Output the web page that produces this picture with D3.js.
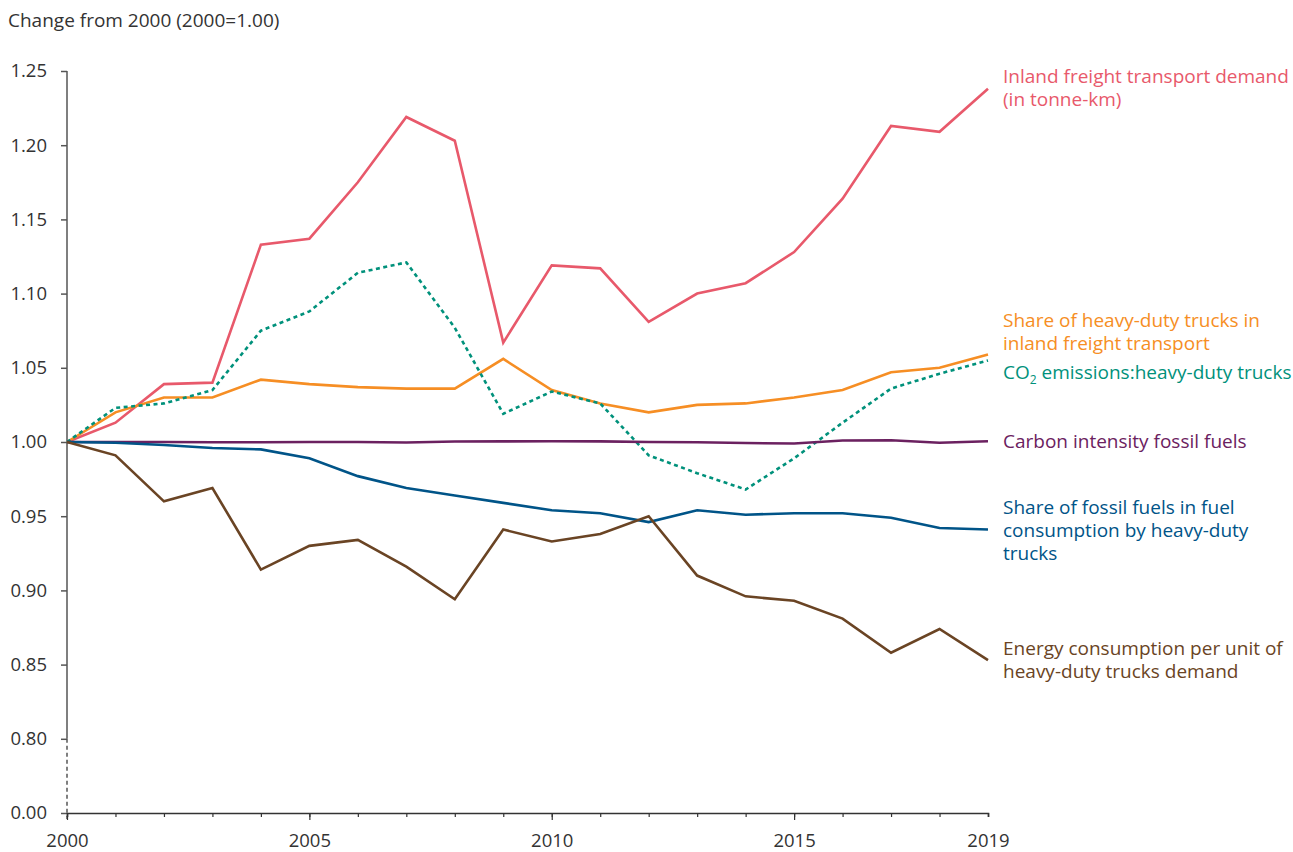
<!DOCTYPE html>
<html>
<head>
<meta charset="utf-8">
<script src="https://cdn.jsdelivr.net/npm/d3@7"></script>
<style>
  body { margin: 0; background: #fff; }
  text { font-family: "Open Sans", sans-serif; }
</style>
</head>
<body>
<svg id="chart" width="1293" height="852"></svg>
<script>
// data
const years = d3.range(2000, 2020);

const freightDemand = [1.000, 1.013, 1.039, 1.040, 1.133, 1.137, 1.175, 1.219, 1.203, 1.067,
  1.119, 1.117, 1.081, 1.100, 1.107, 1.128, 1.164, 1.213, 1.209, 1.238];
const shareTrucks = [1.000, 1.020, 1.030, 1.030, 1.042, 1.039, 1.037, 1.036, 1.036, 1.056,
  1.035, 1.026, 1.020, 1.025, 1.026, 1.030, 1.035, 1.047, 1.050, 1.059];
const co2Trucks = [1.000, 1.023, 1.026, 1.035, 1.075, 1.088, 1.114, 1.121, 1.077, 1.019,
  1.034, 1.026, 0.991, 0.979, 0.968, 0.989, 1.013, 1.036, 1.046, 1.055];
const carbonIntensity = [1.000, 1.000, 1.000, 0.9998, 0.9998, 1.000, 1.000, 0.9997, 1.0003, 1.0004,
  1.0005, 1.0004, 1.000, 0.9998, 0.9993, 0.999, 1.001, 1.0012, 0.9995, 1.0005];
const shareFossil = [1.000, 0.9995, 0.998, 0.996, 0.995, 0.989, 0.977, 0.969, 0.964, 0.959,
  0.954, 0.952, 0.946, 0.954, 0.951, 0.952, 0.952, 0.949, 0.942, 0.941];
const energyPerUnit = [1.000, 0.991, 0.960, 0.969, 0.914, 0.930, 0.934, 0.916, 0.894, 0.941,
  0.933, 0.938, 0.950, 0.910, 0.896, 0.893, 0.881, 0.858, 0.874, 0.853];

const yTicks = [0.75, 0.80, 0.85, 0.90, 0.95, 1.00, 1.05, 1.10, 1.15, 1.20, 1.25];
const xTickLabels = [2000, 2005, 2010, 2015, 2019];

const series = [
  {name: "freight", values: freightDemand, color: "#e8596b", dash: null,
   label: ["Inland freight transport demand", "(in tonne-km)"], ly: 83},
  {name: "share", values: shareTrucks, color: "#f68e24", dash: null,
   label: ["Share of heavy-duty trucks in", "inland freight transport"], ly: 327},
  {name: "co2", values: co2Trucks, color: "#00917b", dash: "4 3.5",
   label: null, ly: 379},
  {name: "carbon", values: carbonIntensity, color: "#6b2160", dash: null,
   label: ["Carbon intensity fossil fuels"], ly: 448},
  {name: "fossil", values: shareFossil, color: "#005488", dash: null,
   label: ["Share of fossil fuels in fuel", "consumption by heavy-duty", "trucks"], ly: 514},
  {name: "energy", values: energyPerUnit, color: "#6a4424", dash: null,
   label: ["Energy consumption per unit of", "heavy-duty trucks demand"], ly: 655}
];

const svg = d3.select("#chart");
const mLeft = 67, mRight = 988, mTop = 71, mBottom = 813;
const fs = 19;

const x = d3.scaleLinear().domain([2000, 2019]).range([mLeft, mRight]);
const y = d3.scaleLinear().domain([0.75, 1.25]).range([mBottom, mTop]);

svg.append("text")
  .attr("x", 8).attr("y", 27)
  .attr("font-size", fs).attr("fill", "#333")
  .text("Change from 2000 (2000=1.00)");

// y axis, with a break below 0.80
const yAxis = svg.append("g")
  .attr("transform", `translate(${mLeft},0)`)
  .call(d3.axisLeft(y).tickValues(yTicks).tickSize(6).tickPadding(14)
    .tickFormat(d => d === 0.75 ? "0.00" : d3.format(".2f")(d)));
yAxis.select(".domain").remove();
yAxis.selectAll(".tick line").attr("stroke", "#555").attr("stroke-width", 1.5);
yAxis.selectAll(".tick text").attr("font-size", 18.5).attr("fill", "#333")
  .attr("font-family", "Open Sans");
yAxis.append("line")
  .attr("y1", y(1.25)).attr("y2", y(0.80))
  .attr("stroke", "#555").attr("stroke-width", 1.5);
yAxis.append("line")
  .attr("y1", y(0.80)).attr("y2", y(0.75) + 6)
  .attr("stroke", "#555").attr("stroke-width", 1.5)
  .attr("stroke-dasharray", "4 3");

// x axis: minor ticks every year, labels at selected years
const xAxis = svg.append("g")
  .attr("transform", `translate(0,${mBottom})`)
  .call(d3.axisBottom(x).tickValues(years).tickSize(4).tickFormat(""));
xAxis.select(".domain").attr("stroke", "#333").attr("stroke-width", 1.5);
xAxis.selectAll(".tick line").attr("stroke", "#333").attr("stroke-width", 1.2);

const xLab = svg.append("g")
  .attr("transform", `translate(0,${mBottom})`)
  .call(d3.axisBottom(x).tickValues(xTickLabels).tickSize(7).tickPadding(14)
    .tickFormat(d3.format("d")));
xLab.select(".domain").remove();
xLab.selectAll(".tick line").attr("stroke", "#333").attr("stroke-width", 1.2)
  .attr("y2", d => d === 2019 ? 4 : 7);
xLab.selectAll(".tick text").attr("font-size", 18.5).attr("fill", "#333")
  .attr("font-family", "Open Sans");

// lines
const line = d3.line()
  .x((d, i) => x(years[i]))
  .y(d => y(d));

svg.append("g")
  .selectAll("path")
  .data(series)
  .join("path")
  .attr("fill", "none")
  .attr("stroke", d => d.color)
  .attr("stroke-width", 2.6)
  .attr("stroke-linejoin", "miter")
  .attr("stroke-dasharray", d => d.dash)
  .attr("d", d => line(d.values));

// labels at the right end
const labels = svg.append("g");
series.filter(d => d.label).forEach(s => {
  const t = labels.append("text")
    .attr("x", 1003).attr("y", s.ly)
    .attr("font-size", fs).attr("fill", s.color);
  s.label.forEach((l, i) => {
    t.append("tspan").attr("x", 1003).attr("dy", i === 0 ? 0 : 23).text(l);
  });
});

const co2 = series.find(d => d.name === "co2");
const co2Label = labels.append("text")
  .attr("x", 1003).attr("y", co2.ly)
  .attr("font-size", fs).attr("fill", co2.color);
co2Label.append("tspan").text("CO");
co2Label.append("tspan").attr("font-size", 12).attr("dy", 5).text("2");
co2Label.append("tspan").attr("dy", -5).text(" emissions:heavy-duty trucks");
</script>
</body>
</html>
